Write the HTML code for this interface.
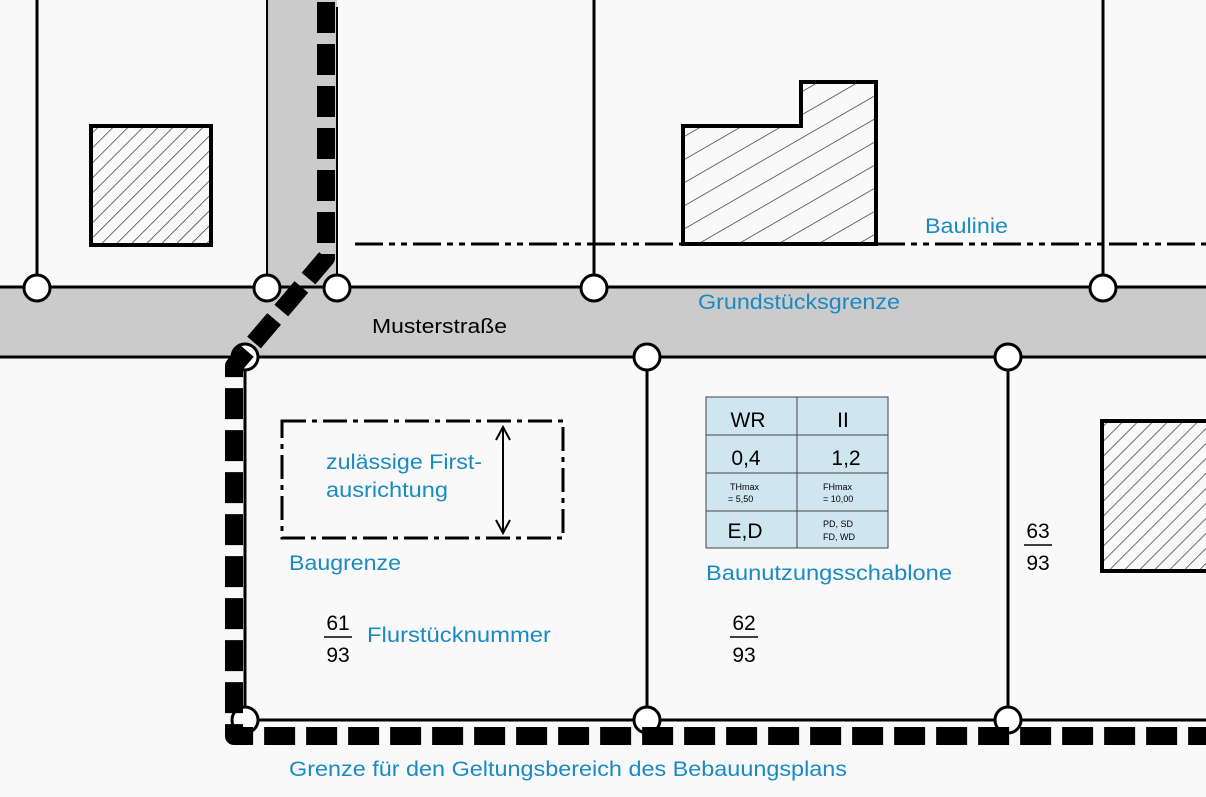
<!DOCTYPE html>
<html><head><meta charset="utf-8"><style>
html,body{margin:0;padding:0;background:#f9f9f9;}
svg{display:block}
text{font-family:"Liberation Sans",sans-serif}
.b{fill:#1a8ac3}
</style></head><body>
<svg width="1206" height="797" viewBox="0 0 1206 797" xmlns="http://www.w3.org/2000/svg">
<defs>
<pattern id="h45" patternUnits="userSpaceOnUse" width="10.6" height="10.6" patternTransform="rotate(45)">
<line x1="0" y1="0" x2="0" y2="10.6" stroke="#222" stroke-width="1.3"/></pattern>
<pattern id="h30" patternUnits="userSpaceOnUse" width="20" height="20" patternTransform="rotate(60)">
<line x1="0" y1="0" x2="0" y2="20" stroke="#222" stroke-width="1.3"/></pattern>
</defs>
<rect width="1206" height="797" fill="#f9f9f9"/>
<rect x="0" y="287" width="1206" height="70" fill="#cbcbcb"/>
<rect x="267" y="0" width="70" height="287" fill="#cbcbcb"/>
<g stroke="#000" stroke-width="3" fill="none">
<line x1="0" y1="287" x2="1206" y2="287"/>
<line x1="0" y1="357" x2="1206" y2="357"/>
<line x1="37" y1="0" x2="37" y2="287"/>
<line x1="267" y1="0" x2="267" y2="287" stroke-width="2"/>
<line x1="337" y1="7" x2="337" y2="287" stroke-width="2"/>
<line x1="594" y1="0" x2="594" y2="287"/>
<line x1="1103" y1="0" x2="1103" y2="287"/>
<line x1="245" y1="357" x2="245" y2="720"/>
<line x1="647" y1="357" x2="647" y2="720"/>
<line x1="1008" y1="357" x2="1008" y2="720"/>
<line x1="245" y1="720" x2="1206" y2="720"/>
</g>
<rect x="91" y="126" width="120" height="119" fill="url(#h45)" stroke="#000" stroke-width="4"/>
<polygon points="683,126 801,126 801,82 876,82 876,244 683,244" fill="url(#h30)" stroke="#000" stroke-width="4"/>
<rect x="1102" y="421" width="110" height="150" fill="url(#h45)" stroke="#000" stroke-width="4"/>
<line x1="355" y1="244" x2="1206" y2="244" stroke="#000" stroke-width="3" stroke-dasharray="28,6,6,6,6,6"/>
<rect x="282" y="421" width="281" height="117" fill="none" stroke="#000" stroke-width="3" stroke-dasharray="24,6,5,6"/>
<line x1="503" y1="427" x2="503" y2="533" stroke="#000" stroke-width="2"/>
<polyline points="496,440 503,427 510,440" fill="none" stroke="#000" stroke-width="2"/>
<polyline points="496,520 503,533 510,520" fill="none" stroke="#000" stroke-width="2"/>
<g fill="#fff" stroke="#000" stroke-width="3">
<circle cx="37" cy="288" r="13"/><circle cx="267" cy="288" r="13"/><circle cx="337" cy="288" r="13"/>
<circle cx="594" cy="288" r="13"/><circle cx="1103" cy="288" r="13"/>
<circle cx="245" cy="357" r="13"/><circle cx="647" cy="357" r="13"/><circle cx="1008" cy="357" r="13"/>
<circle cx="245" cy="720" r="13"/><circle cx="647" cy="720" r="13"/><circle cx="1008" cy="720" r="13"/>
</g>
<polyline points="326,2 326,258 234,366 234,736 1206,736" fill="none" stroke="#000" stroke-width="18" stroke-dasharray="31,11" stroke-linejoin="round"/>
<g>
<rect x="706" y="397" width="182" height="151" fill="#cfe6f1" stroke="#444" stroke-width="1"/>
<g stroke="#444" stroke-width="1">
<line x1="797" y1="397" x2="797" y2="548"/>
<line x1="706" y1="435" x2="888" y2="435"/>
<line x1="706" y1="473" x2="888" y2="473"/>
<line x1="706" y1="511" x2="888" y2="511"/>
</g>
<text x="748" y="427" font-size="21" text-anchor="middle">WR</text>
<text x="843" y="427" font-size="21" text-anchor="middle">II</text>
<text x="746" y="465" font-size="21" text-anchor="middle">0,4</text>
<text x="846" y="465" font-size="21" text-anchor="middle">1,2</text>
<text x="730" y="490" font-size="9">THmax</text>
<text x="728" y="502" font-size="9">= 5,50</text>
<text x="823" y="490" font-size="9">FHmax</text>
<text x="823" y="502" font-size="9">= 10,00</text>
<text x="745" y="538" font-size="21" text-anchor="middle">E,D</text>
<text x="823" y="527" font-size="9">PD, SD</text>
<text x="823" y="540" font-size="9">FD, WD</text>
</g>
<text x="372" y="333" font-size="20" textLength="135" lengthAdjust="spacingAndGlyphs">Musterstraße</text>
<text class="b" x="925" y="233" font-size="21" textLength="83" lengthAdjust="spacingAndGlyphs">Baulinie</text>
<text class="b" x="698" y="309" font-size="21" textLength="202" lengthAdjust="spacingAndGlyphs">Grundstücksgrenze</text>
<text class="b" x="326" y="469" font-size="21" textLength="156" lengthAdjust="spacingAndGlyphs">zulässige First-</text>
<text class="b" x="326" y="497" font-size="21" textLength="122" lengthAdjust="spacingAndGlyphs">ausrichtung</text>
<text class="b" x="289" y="570" font-size="21" textLength="112" lengthAdjust="spacingAndGlyphs">Baugrenze</text>
<text class="b" x="706" y="580" font-size="21" textLength="246" lengthAdjust="spacingAndGlyphs">Baunutzungsschablone</text>
<text class="b" x="367" y="642" font-size="21" textLength="184" lengthAdjust="spacingAndGlyphs">Flurstücknummer</text>
<text class="b" x="289" y="776" font-size="21" textLength="558" lengthAdjust="spacingAndGlyphs">Grenze für den Geltungsbereich des Bebauungsplans</text>
<g font-size="21" text-anchor="middle">
<text x="338" y="630">61</text><line x1="324" y1="637" x2="352" y2="637" stroke="#000" stroke-width="1.5"/><text x="338" y="662">93</text>
<text x="744" y="630">62</text><line x1="730" y1="637" x2="758" y2="637" stroke="#000" stroke-width="1.5"/><text x="744" y="662">93</text>
<text x="1038" y="538">63</text><line x1="1024" y1="545" x2="1052" y2="545" stroke="#000" stroke-width="1.5"/><text x="1038" y="570">93</text>
</g>
</svg>
</body></html>
